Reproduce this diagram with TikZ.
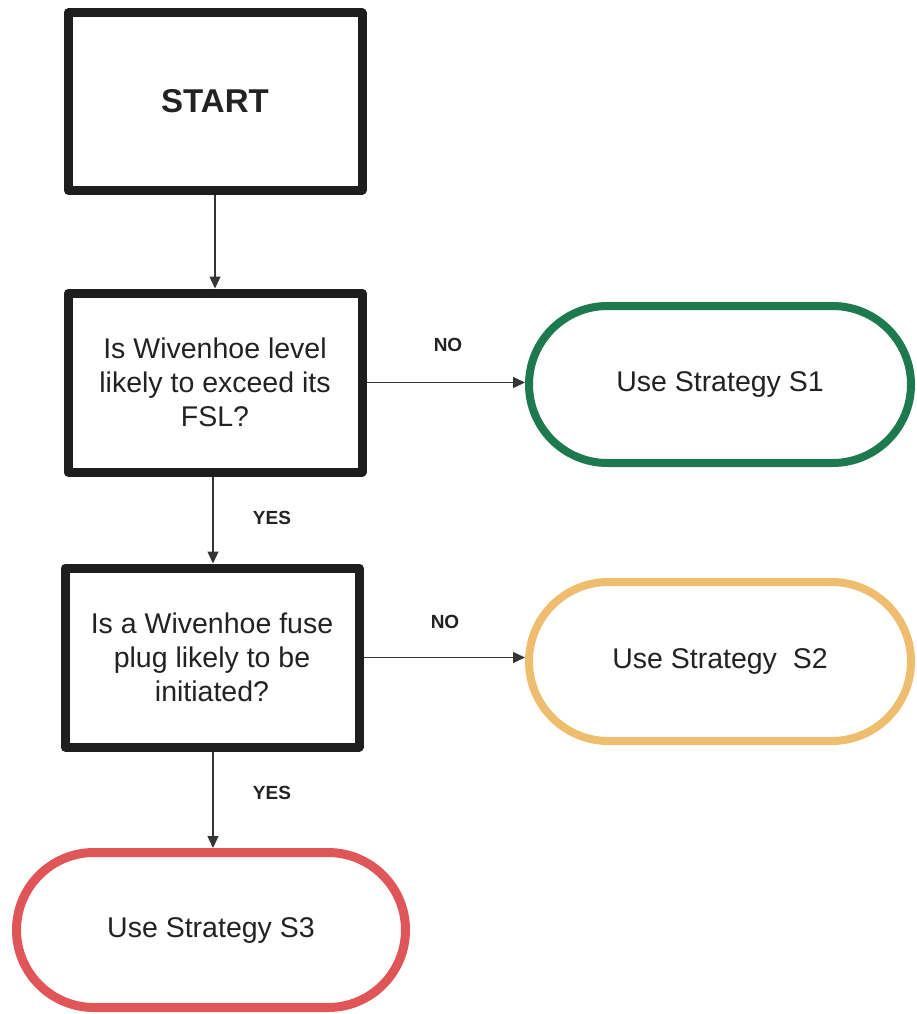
\documentclass[tikz,border=0pt]{standalone}
\usepackage{fontspec}
\setmainfont{Liberation Sans}
\usetikzlibrary{arrows.meta,shapes.misc}
\definecolor{boxline}{HTML}{1E1E1E}
\definecolor{sgreen}{HTML}{1D7A4E}
\definecolor{sorange}{HTML}{EEBE6E}
\definecolor{sred}{HTML}{E05558}
\definecolor{txt}{HTML}{222222}
\tikzset{
  decbox/.style={draw=boxline, line width=9pt, line join=round, rectangle, minimum width=294pt, minimum height=179pt, align=center, text=txt, font=\fontsize{28.5}{34}\selectfont, inner sep=0pt},
  stadium/.style={rounded rectangle, line width=8pt, align=center, text=txt, font=\fontsize{28.5}{34}\selectfont, inner sep=0pt},
  conn/.style={draw=boxline!90, line width=1.3pt, -{Triangle[length=12pt,width=11pt]}},
  lbl/.style={text=txt, font=\bfseries\fontsize{19}{22}\selectfont, inner sep=0pt}
}
\begin{document}
\begin{tikzpicture}[x=1pt,y=-1pt]
\useasboundingbox (0,0) rectangle (916,1014);
\node[decbox, minimum height=177pt, font=\bfseries\fontsize{33}{38}\selectfont] (start) at (215,101.5) {START};
\node[decbox] (q1) at (215,382.5) {Is Wivenhoe level\\likely to exceed its\\FSL?};
\node[decbox] (q2) at (212,657.5) {Is a Wivenhoe fuse\\plug likely to be\\initiated?};
\node[stadium, draw=sgreen, minimum width=382pt, minimum height=157pt] (s1) at (720,384.5) {Use Strategy S1};
\node[stadium, draw=sorange, minimum width=382pt, minimum height=159pt] (s2) at (720,661.5) {Use Strategy\ \ S2};
\node[stadium, draw=sred, line width=9pt, minimum width=389pt, minimum height=155pt] (s3) at (211,930) {Use Strategy S3};
\coordinate (c1) at (213,0);
\draw[conn] (start.south) -- (q1.north);
\draw[conn] (q1.east) -- (q1.east -| s1.west);
\draw[conn] (c1 |- q1.south) -- (c1 |- q2.north);
\draw[conn] (q2.east) -- (q2.east -| s2.west);
\draw[conn] (c1 |- q2.south) -- (c1 |- s3.north);
\node[lbl] (no1) at (448,345) {NO};
\node[lbl] (no2) at (445,622) {NO};
\node[lbl] (yes1) at (272,518) {YES};
\node[lbl] (yes2) at (272,793) {YES};
\end{tikzpicture}
\end{document}
